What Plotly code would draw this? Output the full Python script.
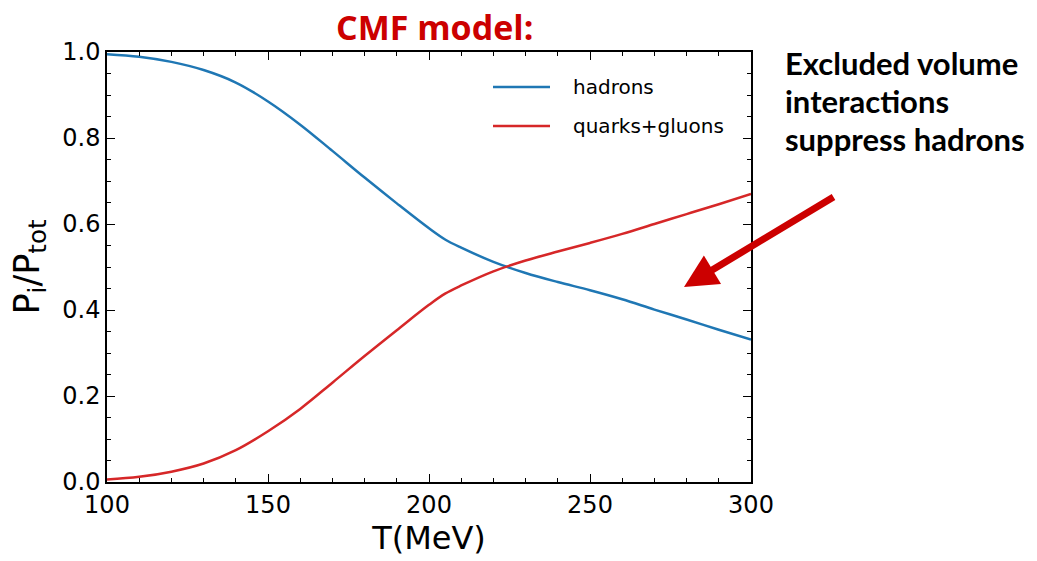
import plotly.graph_objects as go

# Data
T_MeV = [100, 110, 120, 130, 140, 150, 160, 170, 180, 190, 200, 205, 210, 220, 230, 240, 250, 260, 270, 280, 290, 300]
hadrons = [0.995, 0.989, 0.977, 0.958, 0.929, 0.885, 0.831, 0.770, 0.708, 0.648, 0.590, 0.564, 0.545, 0.512, 0.486, 0.465, 0.446, 0.425, 0.401, 0.378, 0.354, 0.331]
quarks_gluons = [0.006, 0.012, 0.024, 0.043, 0.074, 0.118, 0.170, 0.231, 0.293, 0.353, 0.412, 0.438, 0.457, 0.490, 0.515, 0.536, 0.556, 0.577, 0.600, 0.623, 0.646, 0.670]
series_names = ["hadrons", "quarks+gluons"]
series_colors = ["#1f77b4", "#d62728"]
x_ticks = [100, 150, 200, 250, 300]
y_ticks = [0.0, 0.2, 0.4, 0.6, 0.8, 1.0]

W, H = 1037, 561
L, R, Tm, B = 107, 751, 52, 482  # plot area in page pixels

def px_to_paper(px, py):
    return (px - L) / (R - L), (B - py) / (B - Tm)

fig = go.Figure()
for name, ys, col in zip(series_names, [hadrons, quarks_gluons], series_colors):
    fig.add_trace(go.Scatter(x=T_MeV, y=ys, mode="lines", name=name,
                             line=dict(color=col, width=2.5, shape="spline", smoothing=1.0),
                             showlegend=False))

tick_font = dict(family="DejaVu Sans", size=24, color="black")
axis_common = dict(showline=True, linecolor="black", linewidth=1.5, mirror="allticks",
                   ticks="inside", ticklen=8, tickwidth=1.3, tickcolor="black",
                   showgrid=False, zeroline=False, tickfont=tick_font)

fig.update_xaxes(range=[100, 300], tickvals=x_ticks, ticktext=[str(v) for v in x_ticks],
                 minor=dict(ticks="inside", ticklen=4, tickwidth=1.1, tickcolor="black", dtick=10, tick0=100),
                 title=dict(text="T(MeV)", font=dict(family="DejaVu Sans", size=32, color="black"), standoff=6),
                 **axis_common)
fig.update_yaxes(range=[0, 1], tickvals=y_ticks, ticktext=["%.1f" % v for v in y_ticks],
                 minor=dict(ticks="inside", ticklen=4, tickwidth=1.1, tickcolor="black", dtick=0.05, tick0=0),
                 title=dict(text="P<sub>i</sub>/P<sub>tot</sub>", font=dict(family="DejaVu Sans", size=35, color="black"), standoff=12),
                 **axis_common)

# Manual legend (lines + labels)
shapes = []
annotations = []
for i, (name, col) in enumerate(zip(series_names, series_colors)):
    ly = 87 + i * 39
    x0, y0 = px_to_paper(493, ly)
    x1, _ = px_to_paper(550, ly)
    shapes.append(dict(type="line", xref="paper", yref="paper", x0=x0, x1=x1, y0=y0, y1=y0,
                       line=dict(color=col, width=2.5)))
    tx, ty = px_to_paper(571, ly)
    annotations.append(dict(text=name, xref="paper", yref="paper", x=tx, y=ty, xanchor="left", yanchor="middle",
                            showarrow=False, font=dict(family="DejaVu Sans", size=20, color="black")))

# Title
tx, ty = px_to_paper(434, 27)
annotations.append(dict(text="<b>CMF model:</b>", xref="paper", yref="paper", x=tx, y=ty, xanchor="center",
                        yanchor="middle", showarrow=False, borderpad=0,
                        font=dict(family="Open Sans", size=34, color="#cc0000")))

# Side text
for i, line in enumerate(["Excluded volume", "interactions", "suppress hadrons"]):
    tx, ty = px_to_paper(783, 63 + i * 38)
    annotations.append(dict(text="<b>%s</b>" % line, xref="paper", yref="paper", x=tx, y=ty, xanchor="left",
                            yanchor="middle", showarrow=False, font=dict(family="Lato", size=31, color="black")))

# Arrow
ax_, ay_ = px_to_paper(684, 287)
annotations.append(dict(text="", xref="paper", yref="paper", x=ax_, y=ay_, ax=835 - 684, ay=196 - 287,
                        showarrow=True, arrowhead=2, arrowsize=0.95, arrowwidth=7, arrowcolor="#cc0000"))

fig.update_layout(width=W, height=H, margin=dict(l=L, r=W - R, t=Tm, b=H - B, pad=0),
                  plot_bgcolor="white", paper_bgcolor="white", shapes=shapes, annotations=annotations,
                  showlegend=False)

fig.write_html("out.html", config={"displayModeBar": False},
               post_script="document.body.style.margin='0px';document.body.style.overflow='hidden';")
